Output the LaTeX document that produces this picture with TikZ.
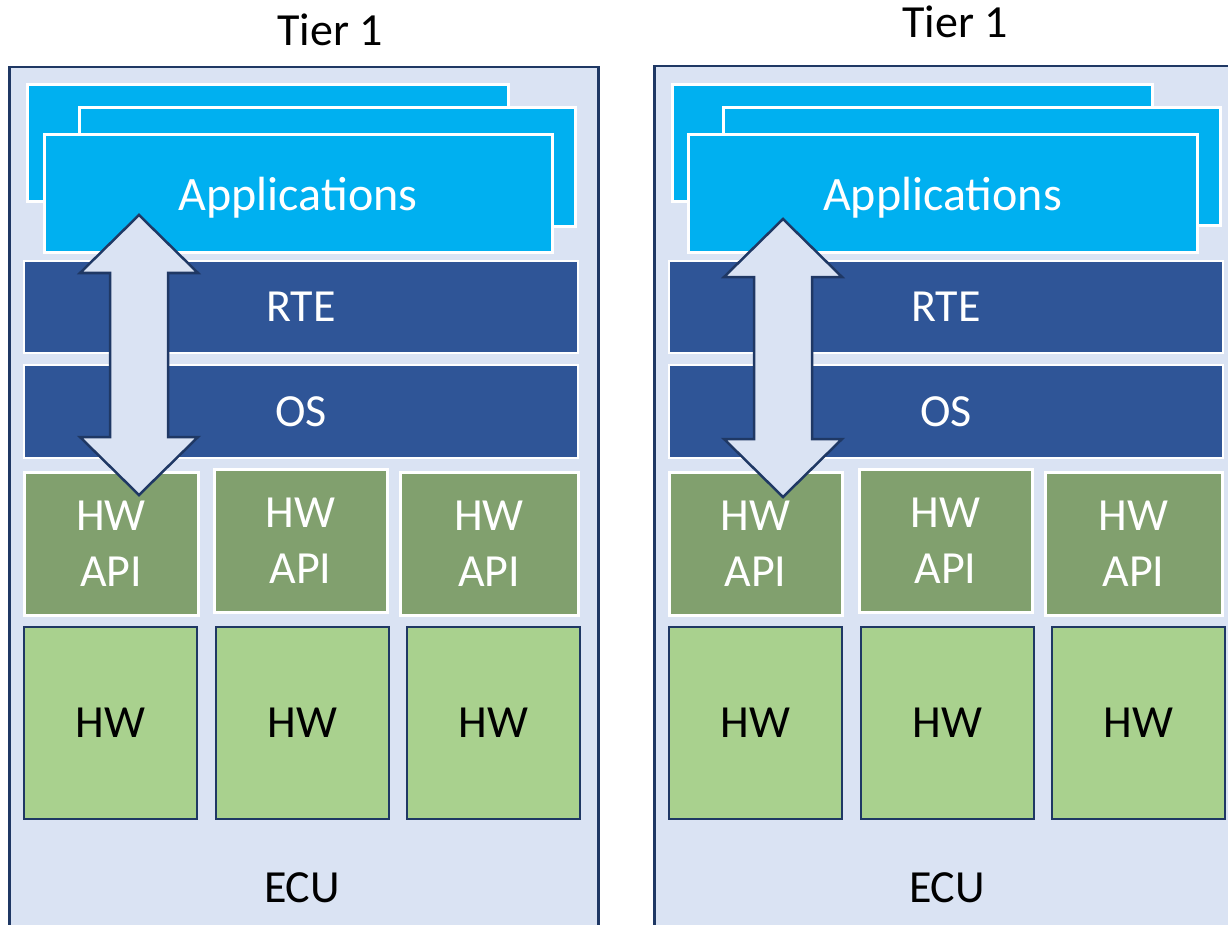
\documentclass[tikz,border=0pt]{standalone}
\usepackage{fontspec}
\setmainfont{Carlito}
\usetikzlibrary{positioning,calc}

\definecolor{ecufill}{HTML}{DAE3F3}
\definecolor{eculine}{HTML}{1F3864}
\definecolor{appblue}{HTML}{00B0F0}
\definecolor{rteblue}{HTML}{2F5597}
\definecolor{apigreen}{HTML}{81A06E}
\definecolor{hwgreen}{HTML}{A9D18E}

\begin{document}
\begin{tikzpicture}[x=1pt,y=-1pt]
    \tikzstyle{ecubox} = [rectangle, draw=eculine, line width=2.5pt, fill=ecufill,
        anchor=north west, inner sep=0, minimum height=900pt]
    \tikzstyle{block} = [rectangle, inner sep=0, outer sep=0, anchor=north west,
        align=center, text=white, text depth=0pt, font=\fontsize{46}{56}\selectfont]
    \tikzstyle{appbox} = [block, fill=appblue, draw=white, line width=3pt,
        font=\fontsize{48}{56}\selectfont]
    \tikzstyle{stackbox} = [block, fill=rteblue, draw=white, line width=2pt,
        minimum width=554pt]
    \tikzstyle{apibox} = [block, fill=apigreen, draw=white, line width=3pt,
        minimum height=143pt]
    \tikzstyle{hwbox} = [block, fill=hwgreen, draw=eculine, line width=2.5pt,
        text=black, minimum width=173pt, minimum height=192pt]
    \tikzstyle{title} = [font=\fontsize{46}{56}\selectfont]
    \tikzstyle{bigarrow} = [draw=eculine, line width=2.5pt, fill=ecufill]

    \useasboundingbox (0,0) rectangle (1228,925);
    \clip (0,0) rectangle (1228,925);

    % Left ECU
    \node[title] (ltitle) at (330,30) {Tier 1};
    \node[ecubox, minimum width=589pt] (lecu) at (8,66) {};
    \node[appbox, minimum width=481pt, minimum height=117pt] (lappa) at (27,85) {};
    \node[appbox, minimum width=496pt, minimum height=119pt] (lappb) at (79,108) {};
    \node[appbox, minimum width=508pt, minimum height=118pt] (lapp) at (44,135)
        {Applications};
    \node[stackbox, minimum height=92pt] (lrte) at (24,261) {RTE};
    \node[stackbox, minimum height=93pt, anchor=north, below=12pt of lrte] (los) {OS};
    \node[apibox, minimum width=174pt] (lapia) at (24,472) {HW\\API};
    \node[apibox, minimum width=173pt] (lapib) at (214,469) {HW\\API};
    \node[apibox, minimum width=178pt] (lapic) at (400,472) {HW\\API};
    \node[hwbox] (lhwa) at (24,627) {HW};
    \node[hwbox, right=19pt of lhwa] (lhwb) {HW};
    \node[hwbox, right=18pt of lhwb] (lhwc) {HW};
    \node[title] (lecuname) at (302,888) {ECU};
    \coordinate (ltop) at (139,215);
    \coordinate (lbot) at (139,495);
    \draw[bigarrow] (ltop) -- ++(59,58) -- ++(-30,0) -- ($(lbot)+(29,-58)$)
        -- ++(30,0) -- (lbot) -- ++(-59,-58) -- ++(30,0)
        -- ($(ltop)+(-29,58)$) -- ++(-30,0) -- cycle;

    % Right ECU
    \node[title] (rtitle) at (955,22) {Tier 1};
    \node[ecubox, minimum width=620pt] (recu) at (653,65) {};
    \node[appbox, minimum width=480pt, minimum height=117pt] (rappa) at (672,85) {};
    \node[appbox, minimum width=497pt, minimum height=118pt] (rappb) at (723,108) {};
    \node[appbox, minimum width=509pt, minimum height=118pt] (rapp) at (688,135)
        {Applications};
    \node[stackbox, minimum height=92pt] (rrte) at (669,261) {RTE};
    \node[stackbox, minimum height=93pt, anchor=north, below=12pt of rrte] (ros) {OS};
    \node[apibox, minimum width=173pt] (rapia) at (669,472) {HW\\API};
    \node[apibox, minimum width=173pt] (rapib) at (859,469) {HW\\API};
    \node[apibox, minimum width=177pt] (rapic) at (1045,472) {HW\\API};
    \node[hwbox] (rhwa) at (669,627) {HW};
    \node[hwbox, right=19pt of rhwa] (rhwb) {HW};
    \node[hwbox, right=18pt of rhwb] (rhwc) {HW};
    \node[title] (recuname) at (947,888) {ECU};
    \coordinate (rtop) at (783,219);
    \coordinate (rbot) at (783,497);
    \draw[bigarrow] (rtop) -- ++(59,58) -- ++(-30,0) -- ($(rbot)+(29,-58)$)
        -- ++(30,0) -- (rbot) -- ++(-59,-58) -- ++(30,0)
        -- ($(rtop)+(-29,58)$) -- ++(-30,0) -- cycle;
\end{tikzpicture}
\end{document}
